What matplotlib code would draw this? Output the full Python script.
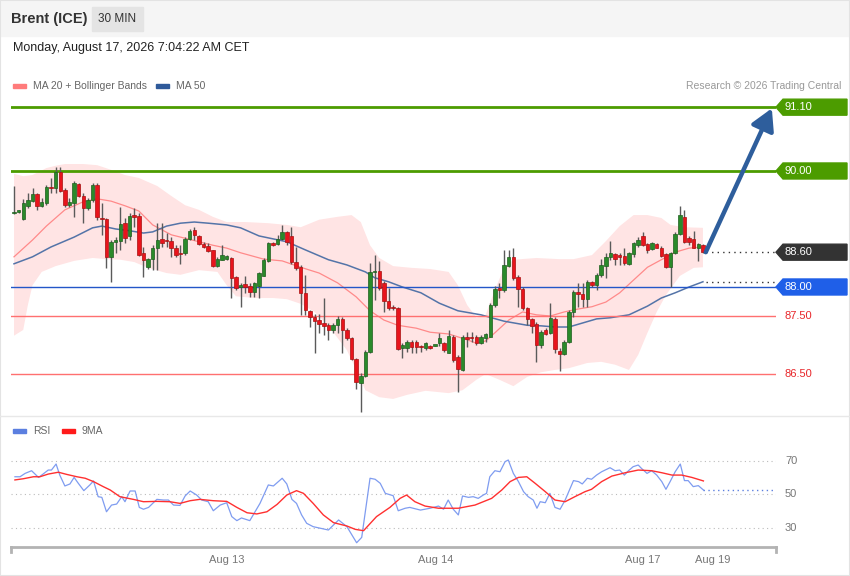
import numpy as np
import matplotlib
matplotlib.use("Agg")
import matplotlib.pyplot as plt
from matplotlib.patches import Rectangle, Polygon
from matplotlib.lines import Line2D

plt.rcParams['font.family'] = ['Liberation Sans', 'DejaVu Sans']

# 30 min candles, oldest first
opens = [89.28, 89.30, 89.17, 89.40, 89.49, 89.60, 89.40, 89.44, 89.73, 89.70,
         89.99, 89.67, 89.41, 89.45, 89.77, 89.57, 89.37, 89.50, 89.76, 89.18,
         89.17, 88.52, 88.78, 88.80, 89.10, 88.88, 89.24, 89.22, 88.58, 88.34,
         88.49, 88.68, 88.82, 88.80, 88.79, 88.68, 88.58, 88.58, 88.82, 88.98,
         88.88, 88.74, 88.71, 88.63, 88.37, 88.47, 88.48, 88.50, 88.18, 88.00,
         88.05, 88.01, 87.92, 88.02, 88.19, 88.45, 88.75, 88.74, 88.82, 88.94,
         88.88, 88.43, 88.34, 87.90, 87.59, 87.49, 87.43, 87.38, 87.34, 87.25,
         87.34, 87.45, 87.26, 87.12, 86.75, 86.35, 86.47, 86.88, 88.26, 88.28,
         88.07, 87.75, 87.66, 87.63, 86.94, 86.94, 87.06, 87.06, 86.98, 86.94,
         86.99, 86.99, 87.04, 87.03, 86.87, 87.14, 86.79, 86.57, 87.14, 87.13,
         87.14, 87.04, 87.12, 87.14, 87.69, 87.98, 87.95, 88.36, 88.51, 88.17,
         87.97, 87.63, 87.44, 87.36, 87.00, 87.25, 87.21, 87.45, 86.90, 86.84,
         87.06, 87.57, 87.92, 87.88, 87.79, 88.08, 88.03, 88.21, 88.36, 88.51,
         88.57, 88.55, 88.53, 88.40, 88.57, 88.72, 88.88, 88.74, 88.65, 88.74,
         88.68, 88.57, 88.35, 88.58, 88.91, 89.21, 88.84, 88.82, 88.68, 88.72]
highs = [89.74, 89.33, 89.52, 89.62, 89.71, 89.62, 89.53, 89.76, 89.88, 90.07,
         90.07, 89.71, 89.53, 89.83, 89.79, 89.62, 89.53, 89.79, 89.79, 89.45,
         89.19, 88.81, 88.86, 89.38, 89.19, 89.28, 89.36, 89.28, 88.69, 88.50,
         88.72, 89.10, 89.10, 88.93, 88.86, 88.72, 88.72, 88.86, 89.00, 89.03,
         88.90, 88.78, 88.76, 88.64, 88.52, 88.72, 88.55, 88.52, 88.19, 88.07,
         88.19, 88.07, 88.09, 88.26, 88.50, 88.78, 88.78, 88.90, 89.07, 88.97,
         89.03, 88.69, 88.38, 88.21, 87.60, 87.53, 87.53, 87.81, 87.38, 87.38,
         87.50, 87.48, 87.29, 87.14, 86.78, 86.52, 86.91, 88.41, 88.55, 88.44,
         88.10, 87.98, 87.69, 87.66, 87.03, 87.09, 87.09, 87.09, 87.00, 87.06,
         87.00, 87.00, 87.21, 87.05, 87.26, 87.17, 86.83, 87.17, 87.23, 87.23,
         87.17, 87.17, 87.21, 87.72, 88.01, 88.07, 88.64, 88.64, 88.68, 88.21,
         88.00, 87.66, 87.46, 87.40, 87.26, 87.29, 87.73, 87.49, 86.95, 87.09,
         87.60, 87.95, 88.07, 88.07, 88.12, 88.11, 88.24, 88.49, 88.58, 88.80,
         88.59, 88.58, 88.68, 88.61, 88.78, 88.86, 88.95, 88.76, 88.78, 88.76,
         88.71, 88.59, 88.61, 88.95, 89.40, 89.33, 88.88, 88.97, 88.76, 88.74]
lows = [89.26, 89.28, 89.16, 89.36, 89.47, 89.33, 89.38, 89.41, 89.62, 89.62,
        89.64, 89.38, 89.38, 89.21, 89.55, 89.10, 89.33, 89.47, 89.16, 88.90,
        88.33, 88.09, 88.59, 88.64, 88.76, 88.81, 89.03, 88.53, 88.17, 88.31,
        88.29, 88.29, 88.69, 88.69, 88.52, 88.52, 88.40, 88.55, 88.81, 88.81,
        88.72, 88.67, 88.60, 88.34, 88.34, 88.47, 88.47, 87.81, 87.95, 87.66,
        87.90, 87.83, 87.83, 87.81, 88.19, 88.43, 88.71, 88.72, 88.81, 88.72,
        88.40, 88.29, 87.52, 87.52, 87.31, 86.86, 87.21, 87.17, 87.09, 87.21,
        87.21, 86.86, 87.09, 86.74, 86.24, 85.85, 86.45, 86.86, 87.78, 87.95,
        87.57, 87.60, 87.60, 86.91, 86.78, 86.88, 86.86, 86.86, 86.88, 86.91,
        86.93, 86.98, 86.98, 86.88, 86.86, 86.71, 86.19, 86.55, 86.97, 87.06,
        87.00, 87.02, 87.06, 87.13, 87.66, 87.81, 87.92, 88.35, 88.12, 87.66,
        87.60, 87.34, 87.20, 86.71, 86.94, 87.17, 87.19, 86.86, 86.56, 86.83,
        87.03, 87.49, 87.66, 87.66, 87.66, 88.00, 87.94, 88.18, 88.15, 88.47,
        88.38, 88.38, 88.38, 88.38, 88.52, 88.69, 88.71, 88.58, 88.64, 88.67,
        88.52, 88.33, 88.00, 88.57, 88.90, 88.75, 88.72, 88.67, 88.45, 88.58]
closes = [89.29, 89.31, 89.45, 89.50, 89.60, 89.40, 89.46, 89.73, 89.71, 89.99,
          89.66, 89.41, 89.47, 89.80, 89.57, 89.37, 89.50, 89.76, 89.21, 89.17,
          88.52, 88.78, 88.81, 89.09, 88.84, 89.22, 89.21, 88.55, 88.47, 88.48,
          88.68, 88.81, 88.76, 88.79, 88.68, 88.56, 88.57, 88.83, 88.97, 88.89,
          88.74, 88.69, 88.62, 88.36, 88.48, 88.55, 88.53, 88.15, 87.99, 88.03,
          88.00, 87.92, 88.07, 88.24, 88.47, 88.75, 88.72, 88.82, 88.94, 88.78,
          88.43, 88.33, 87.90, 87.60, 87.48, 87.42, 87.37, 87.32, 87.26, 87.34,
          87.45, 87.26, 87.12, 86.75, 86.37, 86.47, 86.88, 88.26, 88.27, 87.98,
          87.75, 87.63, 87.63, 86.93, 87.00, 87.06, 86.96, 86.96, 86.96, 87.04,
          86.94, 86.99, 87.12, 86.91, 87.16, 86.74, 86.59, 87.14, 87.10, 87.12,
          87.03, 87.13, 87.19, 87.69, 87.97, 87.94, 88.38, 88.51, 88.16, 87.97,
          87.63, 87.44, 87.33, 87.00, 87.23, 87.19, 87.47, 86.93, 86.84, 87.06,
          87.57, 87.92, 87.88, 87.79, 88.09, 88.03, 88.21, 88.38, 88.52, 88.58,
          88.49, 88.51, 88.41, 88.58, 88.75, 88.81, 88.72, 88.64, 88.75, 88.68,
          88.53, 88.34, 88.58, 88.91, 89.24, 88.78, 88.78, 88.68, 88.74, 88.60]

# indicator lines (bar index, price)
ma20_idx = [0, 4, 7, 11, 15, 18, 21, 24, 27, 30, 34, 37, 40, 43, 46, 49, 54, 58, 62, 66,
            70, 74, 77, 80, 83, 87, 90, 94, 98, 100, 102, 104, 107, 110, 113, 116, 119,
            122, 125, 128, 131, 134, 137, 140, 143, 146, 149]
ma20_val = [88.52, 88.81, 89.05, 89.33, 89.47, 89.52, 89.48, 89.40, 89.31, 89.07, 88.90,
            88.84, 88.78, 88.72, 88.67, 88.59, 88.48, 88.45, 88.34, 88.24, 88.07, 87.83,
            87.59, 87.43, 87.34, 87.29, 87.22, 87.19, 87.09, 87.03, 87.07, 87.21, 87.43,
            87.57, 87.52, 87.50, 87.57, 87.62, 87.66, 87.74, 87.90, 88.12, 88.34, 88.47,
            88.60, 88.67, 88.69]
ma50_idx = [0, 4, 8, 13, 17, 19, 22, 25, 28, 30, 33, 36, 39, 42, 46, 49, 53, 59, 63, 68,
            72, 76, 78, 81, 84, 88, 92, 96, 101, 106, 111, 114, 117, 120, 123, 126, 129,
            133, 137, 140, 143, 146, 149]
ma50_val = [88.40, 88.52, 88.69, 88.86, 89.02, 89.05, 89.00, 88.97, 88.93, 88.95, 89.05,
            89.10, 89.12, 89.10, 89.07, 89.02, 88.88, 88.78, 88.64, 88.47, 88.38, 88.26,
            88.16, 88.09, 88.00, 87.90, 87.72, 87.59, 87.52, 87.41, 87.34, 87.33, 87.31,
            87.31, 87.38, 87.45, 87.47, 87.52, 87.67, 87.81, 87.90, 88.00, 88.09]
bb_up_idx = [0, 2, 4, 7, 9, 11, 15, 18, 21, 24, 27, 31, 34, 37, 40, 43, 46, 50, 55, 59,
             62, 66, 70, 73, 75, 77, 79, 82, 86, 90, 94, 96, 98, 100, 102, 104, 106, 108,
             113, 118, 121, 125, 128, 131, 134, 137, 140, 142, 145, 149]
bb_up_val = [89.95, 89.91, 89.93, 90.05, 90.09, 90.12, 90.12, 90.10, 90.02, 89.93, 89.88,
             89.74, 89.57, 89.41, 89.33, 89.21, 89.12, 89.12, 89.10, 89.07, 89.03, 89.16,
             89.21, 89.24, 89.12, 88.72, 88.50, 88.36, 88.33, 88.31, 88.26, 88.03, 87.69,
             87.47, 87.52, 87.95, 88.33, 88.47, 88.50, 88.48, 88.48, 88.55, 88.79, 89.05,
             89.24, 89.24, 89.19, 89.07, 89.03, 89.02]
bb_lo_idx = [0, 2, 3, 4, 6, 9, 13, 17, 20, 23, 26, 29, 33, 36, 40, 44, 46, 48, 52, 56,
             59, 62, 65, 68, 70, 72, 74, 76, 79, 82, 85, 89, 94, 97, 100, 102, 105, 108,
             111, 114, 117, 120, 124, 127, 130, 133, 135, 137, 139, 141, 144, 147, 149]
bb_lo_val = [87.16, 87.26, 87.69, 88.03, 88.26, 88.36, 88.45, 88.50, 88.48, 88.47, 88.43,
             88.33, 88.24, 88.21, 88.29, 88.26, 88.03, 87.84, 87.81, 87.81, 87.79, 87.71,
             87.57, 87.33, 87.12, 86.91, 86.57, 86.22, 86.10, 86.07, 86.14, 86.21, 86.17,
             86.22, 86.40, 86.50, 86.40, 86.29, 86.45, 86.53, 86.57, 86.60, 86.69, 86.71,
             86.66, 86.57, 86.83, 87.21, 87.57, 87.86, 88.19, 88.33, 88.34]

rsi_idx = [0.2, 1.3, 2.4, 3.8, 5.3, 6.0, 7.4, 8.1, 9.1, 9.9, 11.0, 12.1, 13.0, 13.9, 15.1,
           16.4, 17.2, 18.2, 19.0, 20.0, 21.1, 22.2, 23.3, 24.0, 25.1, 26.2, 27.1, 28.0,
           29.1, 30.9, 32.3, 33.4, 34.5, 35.9, 37.0, 38.1, 39.5, 40.6, 42.0, 43.1, 44.6,
           46.0, 47.1, 48.2, 49.2, 51.0, 53.2, 55.0, 56.1, 58.0, 59.0, 60.1, 61.1, 62.2,
           63.3, 64.7, 68.0, 70.2, 72.0, 74.1, 75.2, 77.0, 78.1, 79.2, 80.3, 82.0, 83.1,
           84.6, 85.6, 87.9, 90.0, 91.8, 92.9, 93.9, 95.0, 96.1, 97.0, 98.3, 99.3, 100.4,
           101.5, 102.2, 102.9, 104.0, 105.1, 106.2, 106.9, 108.0, 109.1, 110.2, 111.2,
           112.3, 113.1, 113.8, 114.9, 115.9, 117.0, 118.1, 119.2, 120.3, 121.0, 122.1,
           122.9, 124.0, 124.9, 126.0, 127.1, 128.9, 130.0, 131.0, 132.0, 132.9, 133.9,
           135.0, 135.7, 136.9, 137.9, 139.0, 140.1, 141.0, 141.9, 143.0, 144.1, 145.0,
           145.8, 146.9, 148.0, 149.1]
rsi_val = [60.3, 60.3, 62.3, 63.9, 59.9, 61.3, 64.3, 64.3, 67.9, 61.3, 54.8, 56.0, 59.9,
           56.4, 52.0, 55.4, 57.8, 48.4, 48.0, 39.4, 43.4, 44.0, 48.4, 45.4, 51.8, 51.8,
           42.0, 40.9, 42.0, 46.8, 46.4, 46.4, 43.4, 43.2, 48.8, 51.8, 49.4, 46.4, 45.4,
           40.0, 43.4, 44.8, 36.5, 34.1, 35.7, 34.1, 44.4, 55.4, 54.8, 59.4, 56.0, 46.8,
           44.4, 37.5, 32.5, 30.5, 28.5, 34.5, 30.5, 20.9, 24.1, 59.4, 58.8, 56.4, 50.4,
           49.0, 40.0, 41.5, 42.0, 40.4, 41.5, 42.8, 40.9, 46.4, 40.9, 37.5, 48.8, 48.0,
           48.4, 47.4, 49.4, 50.4, 60.3, 63.9, 63.3, 69.3, 70.3, 62.3, 57.4, 51.4, 48.4,
           46.4, 41.5, 45.4, 44.8, 50.4, 42.0, 40.9, 46.4, 53.4, 58.0, 57.4, 56.0, 59.4,
           58.8, 61.3, 63.3, 65.7, 63.9, 64.3, 61.3, 63.9, 66.3, 67.3, 65.3, 62.3, 63.9,
           61.3, 57.4, 52.8, 57.4, 63.3, 67.9, 58.0, 58.0, 54.4, 55.0, 52.4]
ma9_idx = [0.2, 2.0, 4.2, 5.6, 7.4, 9.6, 11.4, 13.6, 15.4, 17.2, 19.3, 20.8, 22.9, 25.8,
           28.0, 30.9, 33.7, 35.9, 38.1, 40.2, 43.1, 46.0, 48.2, 50.4, 52.5, 54.7, 56.9,
           59.0, 61.1, 62.6, 64.7, 66.9, 69.1, 72.0, 73.8, 75.6, 78.4, 81.3, 83.5, 84.9,
           86.7, 88.9, 91.8, 96.1, 99.7, 103.3, 105.5, 107.3, 109.1, 110.9, 112.7, 114.9,
           117.0, 119.2, 121.3, 123.5, 124.9, 127.1, 129.3, 132.2, 135.0, 137.9, 140.1,
           142.3, 144.4, 146.6, 149.1]
ma9_val = [58.4, 59.1, 60.3, 60.3, 61.9, 63.0, 61.7, 60.3, 59.4, 57.4, 54.4, 52.4, 48.4,
           46.8, 45.4, 45.6, 45.4, 44.4, 46.0, 46.8, 46.0, 45.6, 42.0, 38.8, 38.1, 39.4,
           43.8, 49.4, 52.0, 50.4, 44.4, 37.5, 32.9, 30.9, 28.9, 28.1, 36.5, 42.0, 47.4,
           49.4, 45.4, 42.8, 41.5, 41.5, 43.4, 47.4, 52.4, 57.4, 59.9, 60.3, 56.4, 51.4,
           46.4, 45.4, 48.4, 51.4, 52.8, 57.4, 60.7, 62.7, 64.3, 63.9, 62.7, 61.3, 61.3,
           59.9, 57.8]

levels_green = [91.10, 90.00]
level_blue = 88.00
levels_red = [87.50, 86.50]
last_price = 88.60
target = 91.08
date_pos = [46.1, 91.1, 136.0, 151.0]
date_lbl = ['Aug 13', 'Aug 14', 'Aug 17', 'Aug 19']
rsi_levels = [70, 50, 30]

W, H = 850, 576
fig = plt.figure(figsize=(8.5, 5.76), dpi=100)

def fx(px):
    return px / W

def fy(py):
    return 1 - py / H

# header
fig.patches.append(Rectangle((0, fy(36)), 1, 36 / H, transform=fig.transFigure,
                             color='#f5f5f5', zorder=0))
fig.patches.append(Rectangle((fx(92), fy(31)), 51 / W, 24 / H, transform=fig.transFigure,
                             color='#e4e4e4', zorder=1))
fig.text(fx(11), fy(19), 'Brent (ICE)', fontsize=10.5, weight='bold', color='#333333', va='center')
fig.text(fx(117.5), fy(19), '30 MIN', fontsize=8.5, color='#333333', va='center', ha='center')
fig.text(fx(13), fy(48), 'Monday, August 17, 2026 7:04:22 AM CET', fontsize=9, color='#222222', va='center')
fig.lines.append(Line2D([0, 1], [fy(416), fy(416)], transform=fig.transFigure, color='#e8e8e8', lw=1))
fig.patches.append(Rectangle((0, 0), 1, 1, transform=fig.transFigure, fill=False,
                             edgecolor='#e3e3e3', lw=1.5))

# legends
def legend_item(x, y, color, label):
    fig.patches.append(Rectangle((fx(x), fy(y + 2)), 13 / W, 4 / H, transform=fig.transFigure,
                                 color=color))
    fig.text(fx(x + 20), fy(y), label, fontsize=7.5, color='#666666', va='center')

legend_item(13, 86, '#ff7b7b', 'MA 20 + Bollinger Bands')
legend_item(156, 86, '#2f5a9a', 'MA 50')
fig.text(fx(841), fy(86), 'Research \u00a9 2026 Trading Central', fontsize=7.5, color='#999999',
         va='center', ha='right')
legend_item(13, 431, '#5b7fe0', 'RSI')
legend_item(62, 431, '#ff1a1a', '9MA')

xmin, xmax = -0.65, 164.8
ax = fig.add_axes([fx(11), fy(415), 765 / W, 320 / H])
ax.set_xlim(xmin, xmax)
ax.set_ylim(85.793, 91.31)
ax.axis('off')

# bollinger band + moving averages
ax.fill(np.concatenate([bb_up_idx, bb_lo_idx[::-1]]),
        np.concatenate([bb_up_val, bb_lo_val[::-1]]), color='#ffe4e4', lw=0, zorder=1)
ax.plot(ma20_idx, ma20_val, color='#ff8a8a', lw=0.9, zorder=2)
ax.plot(ma50_idx, ma50_val, color='#5474a8', lw=1.1, zorder=2)

# levels
for v in levels_green:
    ax.axhline(v, color='#4c9c00', lw=2, zorder=3)
ax.axhline(level_blue, color='#2356c8', lw=1, zorder=3)
for v in levels_red:
    ax.axhline(v, color='#ff7070', lw=1, zorder=3)

# candles
x = np.arange(len(opens))
o = np.array(opens)
c = np.array(closes)
up = c >= o
ax.vlines(x, lows, highs, color='#5a5a5a', lw=1, zorder=4)
body_lo = np.minimum(o, c)
body_h = np.maximum(np.abs(c - o), 0.02)
ax.bar(x[up], body_h[up], bottom=body_lo[up], width=0.75, color='#2a8a2a',
       edgecolor='#1e5e1e', lw=0.5, zorder=5)
ax.bar(x[~up], body_h[~up], bottom=body_lo[~up], width=0.75, color='#e8141c',
       edgecolor='#a81010', lw=0.5, zorder=5)

# projection and dotted guides
last = len(opens) - 1
ax.plot([last + 0.6, xmax], [last_price, last_price], color='#333333', ls=(0, (1, 3)), lw=1, zorder=3)
ax.plot([last + 0.6, xmax], [ma50_val[-1], ma50_val[-1]], color='#333333', ls=(0, (1, 3)), lw=1, zorder=3)
ax.annotate('', xy=(163.9, target), xytext=(last + 0.6, last_price),
            arrowprops=dict(arrowstyle='-|>,head_width=0.45,head_length=0.8', mutation_scale=16,
                            color='#2e5e9c', lw=3.2, shrinkA=0, shrinkB=0), zorder=6)

# right labels
px_x = (xmax - xmin) / 765.0
px_y = (91.31 - 85.793) / 320.0

def tag(v, color):
    x0, x1 = xmax, xmax + 71 * px_x
    n = 7 * px_x
    h = 8 * px_y
    ax.add_patch(Polygon([(x0, v), (x0 + n, v + h), (x1, v + h), (x1, v - h), (x0 + n, v - h)],
                         closed=True, color=color, clip_on=False, zorder=7))
    ax.text(x0 + 9 * px_x, v, '%.2f' % v, color='white', fontsize=8, va='center', ha='left',
            clip_on=False, zorder=8)

for v in levels_green:
    tag(v, '#4c9c00')
tag(last_price, '#333333')
tag(level_blue, '#1f5fe8')
for v in levels_red:
    ax.text(xmax + 9 * px_x, v, '%.2f' % v, color='#e8262a', fontsize=8, va='center', ha='left',
            clip_on=False)

# RSI panel
ax2 = fig.add_axes([fx(11), fy(547), 765 / W, 107 / H])
ax2.set_xlim(xmin, xmax)
ax2.set_ylim(18.36, 82.24)
for v in rsi_levels:
    ax2.axhline(v, color='#bbbbbb', ls=(0, (1, 3)), lw=0.8)
    ax2.text(xmax + 9 * px_x, v, str(v), color='#777777', fontsize=8, va='center', ha='left',
             clip_on=False)
ax2.plot(rsi_idx, rsi_val, color='#7f9cf0', lw=0.9)
ax2.plot(ma9_idx, ma9_val, color='#ff3030', lw=1)
ax2.plot([rsi_idx[-1], xmax], [rsi_val[-1], rsi_val[-1]], color='#5b7fe0', ls=(0, (1, 2.5)), lw=1)
for s in ['top', 'right', 'left']:
    ax2.spines[s].set_visible(False)
ax2.spines['bottom'].set_color('#b3b3b3')
ax2.spines['bottom'].set_linewidth(2)
ax2.set_yticks([])
ax2.set_xticks(date_pos)
ax2.set_xticklabels(date_lbl, fontsize=8, color='#777777')
ax2.tick_params(axis='x', length=0, pad=6)
for xa in [0, 1]:
    ax2.plot([xa, xa], [0, -0.05], transform=ax2.transAxes, color='#b3b3b3', lw=2, clip_on=False)

fig.savefig('out.png', dpi=100)
